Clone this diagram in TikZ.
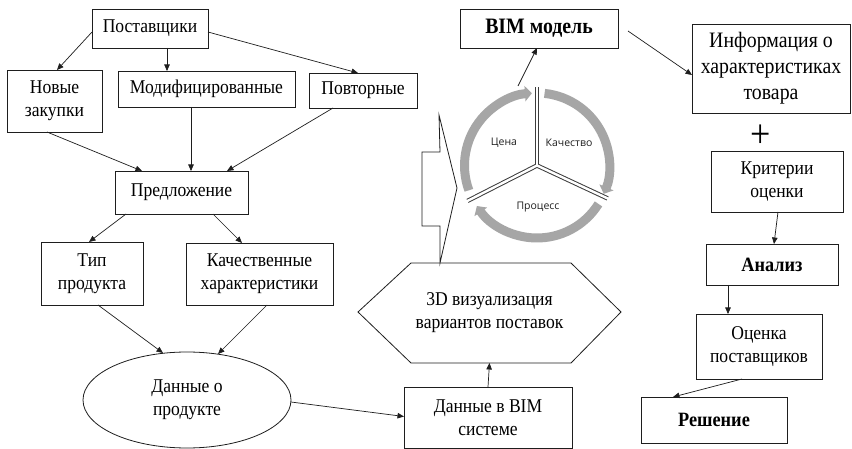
\documentclass[tikz,border=0pt]{standalone}
\usepackage{fontspec}
\setmainfont{Liberation Serif}[FakeStretch=0.9]
\newfontfamily\cyclefont{Open Sans}
\usetikzlibrary{arrows.meta,shapes.geometric,calc}
\definecolor{ringgray}{RGB}{166,166,166}
\definecolor{linec}{RGB}{30,30,30}
\definecolor{sepc}{RGB}{60,60,60}
\begin{document}
\begin{tikzpicture}[x=1pt,y=-1pt,
  box/.style={draw=linec,line width=0.8pt,inner sep=0pt,outer sep=0pt,align=center,
    font=\fontsize{19.5}{23}\selectfont},
  bigtext/.style={font=\fontsize{22}{26}\selectfont},
  boldtext/.style={font=\fontsize{20.3}{23}\selectfont\bfseries},
  bimtext/.style={font=\fontsize{22}{23}\selectfont\bfseries},
  arr/.style={-{Triangle[length=6.5pt,width=5.5pt]},line width=0.7pt,draw=linec},
  ringc/.style={line width=9pt,draw=ringgray,-{Triangle[length=7pt,width=15pt]}},
  sepdark/.style={line width=4.4pt,draw=sepc},
  seplight/.style={line width=2.4pt,draw=white},
  lbl/.style={font=\cyclefont\fontsize{10.5}{12}\selectfont,text=black!88,inner sep=0pt},
  shapeline/.style={draw=linec,line width=0.8pt}
]
\useasboundingbox[fill=white] (0,0) rectangle (852,449);

% left column boxes
\node[box,minimum width=116,minimum height=39] (post) at (150,28.5) {Поставщики};
\node[box,minimum width=95,minimum height=62] (novye) at (54.5,101) {Новые\\закупки};
\node[box,minimum width=177,minimum height=36] (modif) at (206.5,89) {Модифицированные};
\node[box,minimum width=108,minimum height=35] (povt) at (363,90.5) {Повторные};
\node[box,minimum width=133,minimum height=43] (predl) at (181.5,192.5) {Предложение};
\node[box,minimum width=102,minimum height=63] (tip) at (92,273.5) {Тип\\продукта};
\node[box,minimum width=147,minimum height=62] (kach) at (259.5,274) {Качественные\\характеристики};
\node[box,shape=ellipse,minimum width=208,minimum height=96] (ell) at (187,400) {Данные о\\продукте};
\node[box,minimum width=168,minimum height=61] (bimdata) at (488,417.5) {Данные в BIM\\системе};

% hexagon
\node[box,draw=none,minimum width=263,minimum height=100] (hex) at (489.5,313) {3D визуализация\\вариантов поставок};
\draw[shapeline] ([yshift=1pt]hex.west) -- ([xshift=53pt]hex.north west) -- ([xshift=-50pt]hex.north east)
  -- ([yshift=1pt]hex.east) -- ([xshift=-50pt]hex.south east) -- ([xshift=53pt]hex.south west) -- cycle;

% block arrow callout
\draw[shapeline,line join=miter] (439,115) -- (457,188) -- (440,263) -- (440,226) -- (422,226)
  -- (422,152) -- (440,152) -- cycle;

% cycle
\coordinate (cyc) at (537,165.5);
\draw[ringc] ($(cyc)+(-200:72.5)$) arc[start angle=-200, end angle=-94, radius=72.5];
\draw[ringc] ($(cyc)+(-84:72.5)$) arc[start angle=-84, end angle=23, radius=72.5];
\draw[ringc] ($(cyc)+(32:72.5)$) arc[start angle=32, end angle=146, radius=72.5];
\foreach \a in {-90,-207,25} \draw[sepdark] (cyc) -- ++(\a:78);
\foreach \a in {-90,-207,25} \draw[seplight] (cyc) -- ++(\a:79);
\node[lbl] (cena) at (504,143) {Цена};
\node[lbl] (kachestvo) at (569,143) {Качество};
\node[lbl] (process) at (538,207) {Процесс};
\coordinate (cyctop) at (518,86);

% right column
\node[box,bimtext,minimum width=158,minimum height=39] (bim) at (539,28.5) {BIM модель};
\node[box,bigtext,minimum width=158,minimum height=89] (info) at (771,68.5) {Информация о\\характеристиках\\товара};
\node[inner sep=0pt,font=\fontsize{40}{40}\selectfont] (plus) at (761,136) {+};
\node[box,minimum width=132,minimum height=61] (krit) at (777,181.5) {Критерии\\оценки};
\node[box,boldtext,minimum width=132,minimum height=41] (analiz) at (772,264.5) {Анализ};
\node[box,minimum width=126,minimum height=65] (ocenka) at (759,346.5) {Оценка\\поставщиков};
\node[box,boldtext,minimum width=146,minimum height=46] (resh) at (714,420) {Решение};

% connectors
\draw[arr] ([yshift=-3.5pt]post.west) -- ([xshift=2.5pt]novye.north);
\draw[arr] ([xshift=17pt]post.south) -- ([xshift=-39.5pt]modif.north);
\draw[arr] ([yshift=-3.5pt]post.east) -- ([xshift=-5pt]povt.north);
\draw[arr] ([xshift=-7.5pt]novye.south) -- ([xshift=-39.5pt]predl.north);
\draw[arr] ([xshift=-15.5pt]modif.south) -- ([xshift=9.5pt]predl.north);
\draw[arr] ([xshift=-30pt]povt.south) -- ([xshift=45.5pt]predl.north);
\draw[arr] ([xshift=-55.5pt]predl.south) -- ([xshift=-3pt]tip.north);
\draw[arr] ([xshift=31.5pt]predl.south) -- ([xshift=-17.5pt]kach.north);
\draw[arr] ([xshift=6pt]tip.south) -- ([xshift=-24pt,yshift=-1pt]ell.north);
\draw[arr] ([xshift=7.5pt]kach.south) -- ([xshift=31pt,yshift=-2pt]ell.north);
\draw[arr] ([yshift=-2pt]ell.east) -- ([yshift=1pt]bimdata.west);
\draw[arr] (bimdata.north) -- (hex.south);
\draw[arr] (cyctop) -- ([xshift=-2pt]bim.south);
\draw[arr] ([xshift=10pt,yshift=-2.5pt]bim.east) -- ([yshift=-6.5pt]info.west);
\draw[arr] ([xshift=1pt]krit.south) -- ([xshift=2pt]analiz.north);
\draw[arr] ([xshift=-44pt]analiz.south) -- ([xshift=-31pt]ocenka.north);
\draw[arr] ([xshift=-17pt]ocenka.south) -- ([xshift=-41pt]resh.north);
\end{tikzpicture}
\end{document}
